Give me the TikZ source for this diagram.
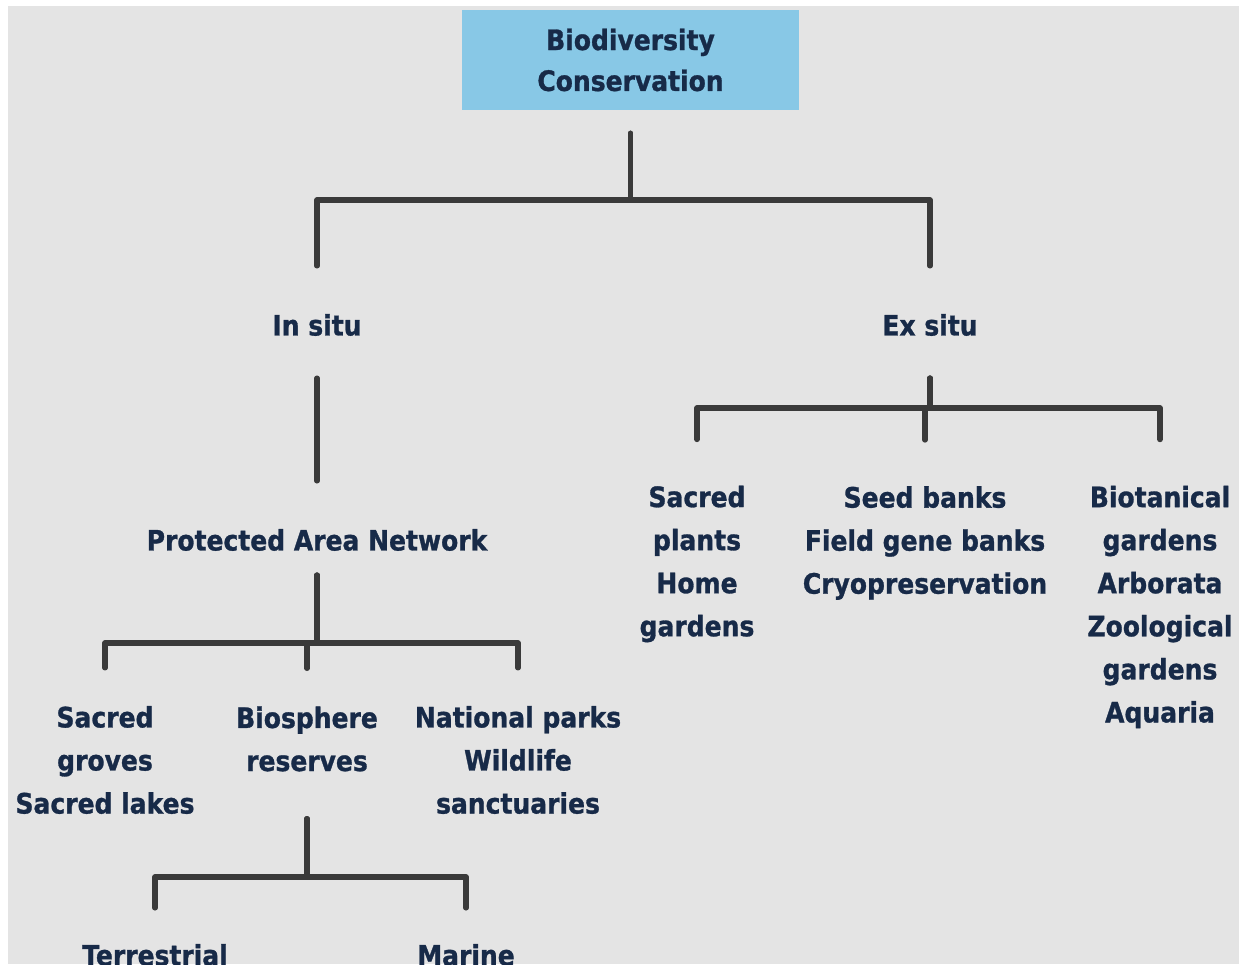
\documentclass[tikz,border=0pt]{standalone}
\usepackage{fontspec}
\setmainfont{DejaVu Sans}[FakeStretch=0.89, BoldFeatures={FakeBold=1}]
\definecolor{bgGray}{HTML}{E4E4E4}
\definecolor{boxBlue}{HTML}{88C8E6}
\definecolor{txtNavy}{HTML}{172A48}
\definecolor{lineGray}{HTML}{3A3A3A}

\begin{document}
\begin{tikzpicture}[x=0.02cm, y=-0.02cm,
    lbl/.style={align=center, inner sep=0pt, text=txtNavy, font=\fontsize{16}{24.5}\selectfont\bfseries},
    conn/.style={draw=lineGray, line width=0.11cm, line cap=round, line join=round}]
    \useasboundingbox (0,0) rectangle (1239,964);
    \clip (0,0) rectangle (1239,964);
    \fill[white] (0,0) rectangle (1239,964);
    \fill[bgGray] (8,6) rectangle (1239,964);

    \node[lbl, fill=boxBlue, minimum width=6.74cm, minimum height=2cm, font=\fontsize{16}{23.3}\selectfont\bfseries] (root) at (630.5,60) {Biodiversity\\Conservation};
    \node[lbl] (insitu) at (317,325) {In situ};
    \node[lbl] (exsitu) at (930,325) {Ex situ};
    \node[lbl] (pan) at (317,540) {Protected Area Network};
    \node[lbl] (groves) at (105,760) {Sacred\\groves\\Sacred lakes};
    \node[lbl] (biosphere) at (307,739) {Biosphere\\reserves};
    \node[lbl] (parks) at (518,760) {National parks\\Wildlife\\sanctuaries};
    \node[lbl] (terr) at (155,955) {Terrestrial};
    \node[lbl] (marine) at (466,955) {Marine};
    \node[lbl] (sacplants) at (697,564) {Sacred\\plants\\Home\\gardens};
    \node[lbl] (seed) at (925,543) {Seed banks\\Field gene banks\\Cryopreservation};
    \node[lbl] (bot) at (1160,607) {Biotanical\\gardens\\Arborata\\Zoological\\gardens\\Aquaria};

    % junctions of the tree
    \coordinate (jRoot) at (630.5,200);
    \coordinate (jPan) at (317,643);
    \coordinate (jBio) at (307,877);
    \coordinate (jEx) at (930,408);

    \draw[conn, shorten <=0.46cm, shorten >=0.96cm] (root.south) |- (jRoot) -| (insitu.north);
    \draw[conn, shorten <=0.46cm, shorten >=0.96cm] (root.south) |- (jRoot) -| (exsitu.north);
    \draw[conn, shorten <=0.84cm, shorten >=0.96cm] (insitu.south) -- (pan.north);
    \draw[conn, shorten <=0.48cm, shorten >=0.76cm] (pan.south) |- (jPan) -| (groves.north);
    \draw[conn, shorten <=0.48cm, shorten >=0.76cm] (pan.south) |- (jPan) -| (biosphere.north);
    \draw[conn, shorten <=0.48cm, shorten >=0.76cm] (pan.south) |- (jPan) -| (parks.north);
    \draw[conn, shorten <=0.94cm, shorten >=0.72cm] (biosphere.south) |- (jBio) -| (terr.north);
    \draw[conn, shorten <=0.94cm, shorten >=0.72cm] (biosphere.south) |- (jBio) -| (marine.north);
    \draw[conn, shorten <=0.84cm, shorten >=0.92cm] (exsitu.south) |- (jEx) -| (sacplants.north);
    \draw[conn, shorten <=0.84cm, shorten >=0.92cm] (exsitu.south) |- (jEx) -| (seed.north);
    \draw[conn, shorten <=0.84cm, shorten >=0.92cm] (exsitu.south) |- (jEx) -| (bot.north);
\end{tikzpicture}
\end{document}
